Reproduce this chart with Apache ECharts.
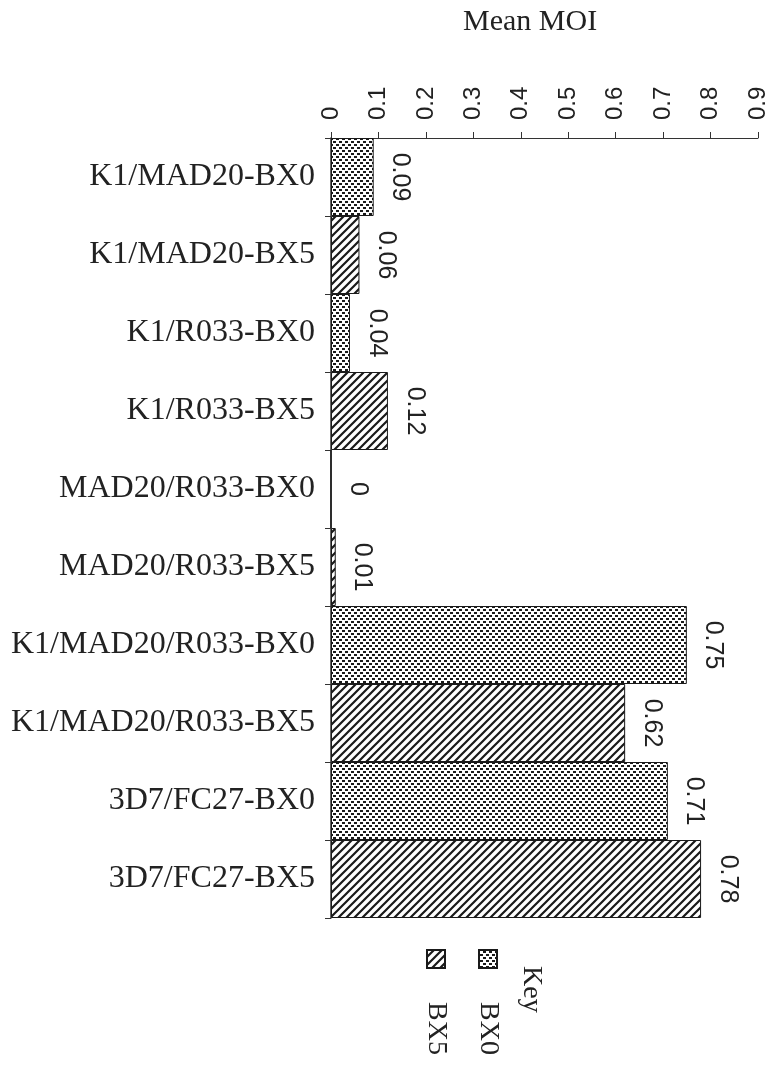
<!DOCTYPE html>
<html>
<head>
<meta charset="utf-8">
<script src="https://cdn.jsdelivr.net/npm/echarts@6/dist/echarts.min.js"></script>
<style>
html,body{margin:0;padding:0;background:#fff;}
#chart{width:775px;height:1068px;}
</style>
</head>
<body>
<div id="chart"></div>
<script>
// ---- data ----
var categories = ['K1/MAD20-BX0','K1/MAD20-BX5','K1/R033-BX0','K1/R033-BX5','MAD20/R033-BX0','MAD20/R033-BX5','K1/MAD20/R033-BX0','K1/MAD20/R033-BX5','3D7/FC27-BX0','3D7/FC27-BX5'];
var values = [0.09, 0.06, 0.04, 0.12, 0, 0.01, 0.75, 0.62, 0.71, 0.78];
var groups = ['BX0','BX5','BX0','BX5','BX0','BX5','BX0','BX5','BX0','BX5'];
var legendTitle = 'Key';
var legendItems = ['BX0','BX5'];
var axisMax = 0.9;
var axisInterval = 0.1;

// ---- patterns ----
function dotPattern(){
  var c = document.createElement('canvas'); c.width = 6; c.height = 6;
  var g = c.getContext('2d');
  g.fillStyle = '#fff'; g.fillRect(0,0,6,6);
  g.fillStyle = '#1a1a1a';
  g.fillRect(0,0,3,2); g.fillRect(3,3,3,2);
  return c;
}
function hatchPattern(){
  var s = 8;
  var c = document.createElement('canvas'); c.width = s; c.height = s;
  var g = c.getContext('2d');
  g.fillStyle = '#fff'; g.fillRect(0,0,s,s);
  g.strokeStyle = '#1a1a1a'; g.lineWidth = 2.2; g.lineCap = 'square';
  g.beginPath();
  g.moveTo(-1, s+1); g.lineTo(s+1, -1);
  g.moveTo(-2, 2); g.lineTo(2, -2);
  g.moveTo(s-2, s+2); g.lineTo(s+2, s-2);
  g.stroke();
  return c;
}
var fills = {
  BX0: {image: dotPattern(), repeat: 'repeat'},
  BX5: {image: hatchPattern(), repeat: 'repeat'}
};

var barData = values.map(function(v, i){
  return {value: v, itemStyle: {color: fills[groups[i]]}};
});

var serif = '"Liberation Serif", "Times New Roman", serif';
var sans = '"Liberation Sans", Arial, sans-serif';
var ink = '#222';

var chart = echarts.init(document.getElementById('chart'), null, {renderer: 'canvas'});

var graphics = [
  {type: 'text', x: 531, y: 966, rotation: -Math.PI/2,
   style: {text: legendTitle, font: '28px ' + serif, fill: ink, align: 'left', verticalAlign: 'middle'}}
];
var legendX = [488, 436];
legendItems.forEach(function(name, i){
  graphics.push({type: 'rect', shape: {x: legendX[i]-9, y: 950, width: 18, height: 18},
    style: {fill: fills[name], stroke: '#1a1a1a', lineWidth: 2}});
  graphics.push({type: 'text', x: legendX[i], y: 1002, rotation: -Math.PI/2,
    style: {text: name, font: '28px ' + serif, fill: ink, align: 'left', verticalAlign: 'middle'}});
});

chart.setOption({
  backgroundColor: '#fff',
  animation: false,
  title: {
    text: 'Mean MOI', left: 458, top: 2,
    textStyle: {fontFamily: serif, fontSize: 30, fontWeight: 'normal', color: ink}
  },
  grid: {left: 331, top: 138, right: 17, bottom: 150, containLabel: false},
  xAxis: {
    type: 'value', position: 'top', min: 0, max: axisMax, interval: axisInterval,
    axisLine: {show: true, lineStyle: {color: '#333', width: 1}},
    axisTick: {show: true, length: 6, lineStyle: {color: '#333'}},
    splitLine: {show: false},
    axisLabel: {rotate: -90, margin: 18, fontFamily: sans, fontSize: 24, color: ink,
      formatter: function(v){ return String(Math.round(v*10)/10); }}
  },
  yAxis: {
    type: 'category', data: categories, inverse: true,
    axisLine: {show: true, lineStyle: {color: '#333', width: 1.5}},
    axisTick: {show: true, length: 6, lineStyle: {color: '#333'}},
    axisLabel: {margin: 16, fontFamily: serif, fontSize: 32, color: ink}
  },
  series: [{
    type: 'bar', data: barData, barCategoryGap: 0,
    itemStyle: {borderColor: '#1a1a1a', borderWidth: 1},
    label: {show: true, position: 'right', distance: 14, rotate: -90,
      align: 'center', verticalAlign: 'bottom',
      fontFamily: sans, fontSize: 25, color: ink,
      formatter: function(p){ return p.value.toFixed(2).replace(/^0\.00$/, '0'); }}
  }],
  graphic: graphics
});
</script>
</body>
</html>
